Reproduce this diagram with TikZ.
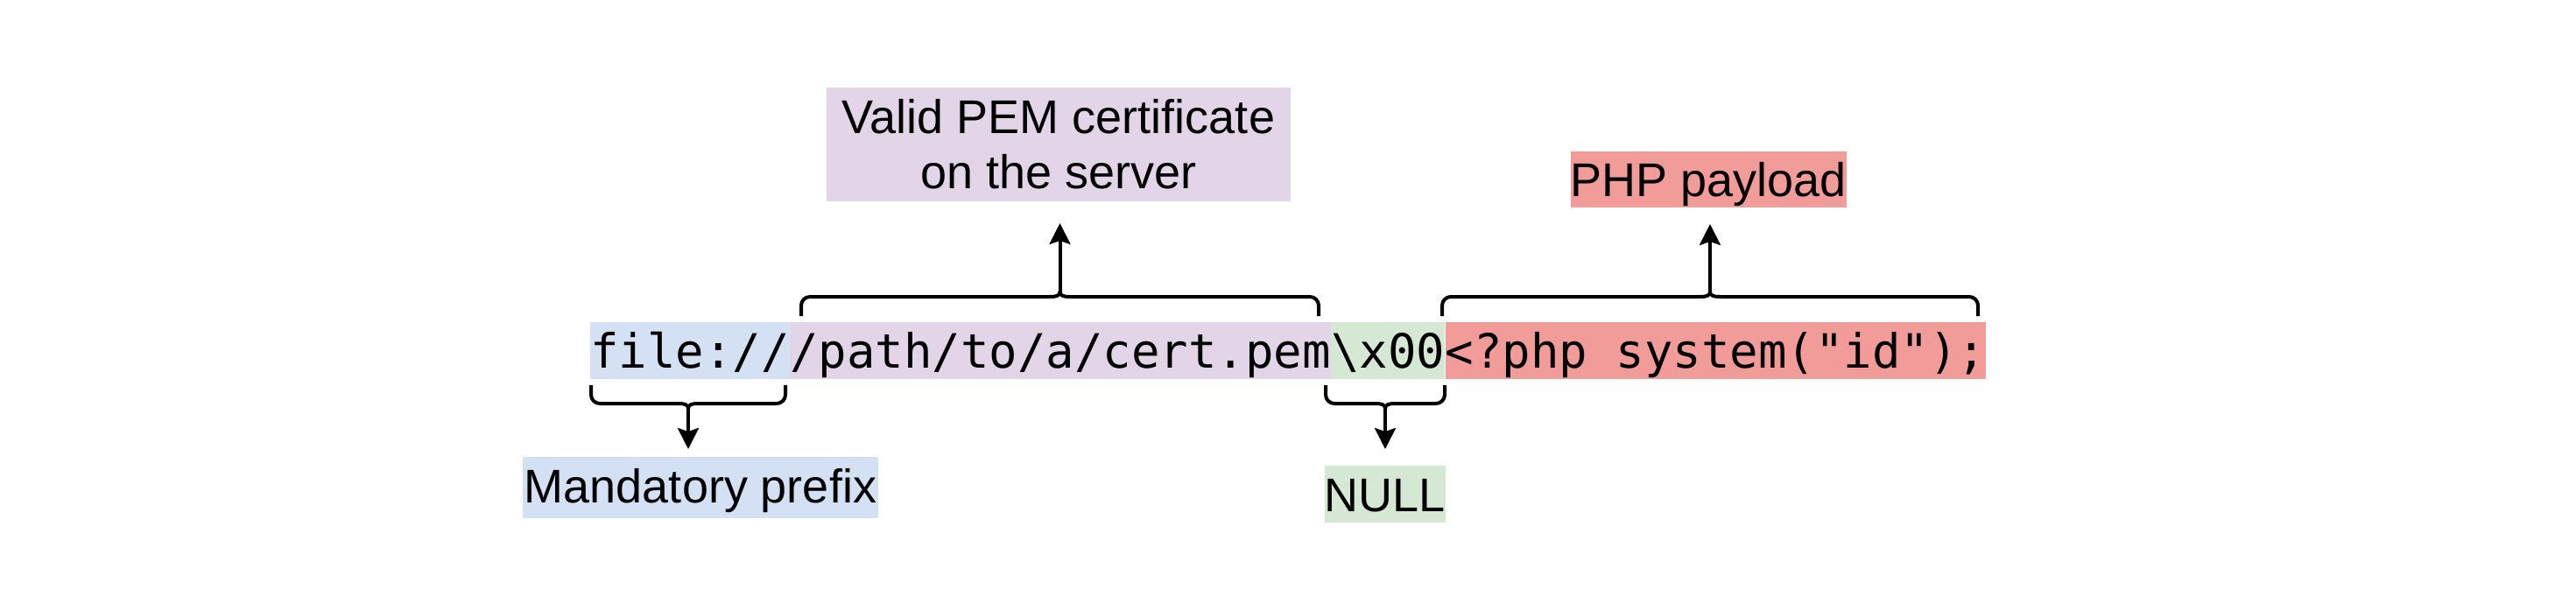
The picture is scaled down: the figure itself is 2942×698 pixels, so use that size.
\documentclass[tikz,border=0pt]{standalone}
\usepackage{fontspec}
\setmainfont{Liberation Sans}
\setmonofont{DejaVu Sans Mono}
\usetikzlibrary{arrows.meta}
\definecolor{cblue}{HTML}{D4E1F5}
\definecolor{cpurple}{HTML}{E1D5E7}
\definecolor{cgreen}{HTML}{D5E8D4}
\definecolor{cred}{HTML}{F19C99}
\begin{document}
\begin{tikzpicture}[x=1pt,y=-1pt,
  code/.style={font=\ttfamily\fontsize{54}{60}\selectfont, inner sep=0pt, text height=52pt, text depth=13pt, anchor=base west},
  lab/.style={font=\fontsize{54}{63}\selectfont, inner sep=0pt},
  bracestroke/.style={line width=4pt, line join=round},
  arr/.style={line width=4pt, -{Stealth[length=24pt,width=24pt,inset=4pt]}}]
\useasboundingbox (0,0) rectangle (2942,698);

% code line
\node[code, fill=cblue] (s1) at (674,420) {file://};
\node[code, fill=cpurple] (s2) at (s1.base east) {/path/to/a/cert.pem};
\node[code, fill=cgreen] (s3) at (s2.base east) {\textbackslash x00};
\node[code, fill=cred] (s4) at (s3.base east) {<?php system("id");};

% labels
\node[lab, fill=cpurple, minimum width=530pt, minimum height=130pt, align=center] (pem) at (1209,165) {Valid PEM certificate\\on the server};
\node[lab, fill=cred, minimum width=309pt, text height=51pt, text depth=13pt, anchor=base] (php) at (1951.5,224) {PHP payload};
\node[lab, fill=cblue, minimum width=406pt, text height=52pt, text depth=18pt, anchor=base] (pre) at (800,574) {Mandatory prefix};
\node[lab, fill=cgreen, minimum width=132pt, text height=52pt, text depth=13pt, anchor=base] (nul) at (1582,584) {NULL};

% braces
\draw[bracestroke] (915,361) -- (915,349) .. controls (915,343.5) and (919.5,339) .. (925,339) -- (1198.5,339) .. controls (1206.5,339) and (1210.5,338) .. (1210.5,333) .. controls (1210.5,338) and (1214.5,339) .. (1222.5,339) -- (1496,339) .. controls (1501.5,339) and (1506,343.5) .. (1506,349) -- (1506,361);
\draw[bracestroke] (1647,361) -- (1647,349) .. controls (1647,343.5) and (1651.5,339) .. (1657,339) -- (1941,339) .. controls (1949,339) and (1953,338) .. (1953,333) .. controls (1953,338) and (1957,339) .. (1965,339) -- (2249,339) .. controls (2254.5,339) and (2259,343.5) .. (2259,349) -- (2259,361);
\draw[bracestroke] (675,440) -- (675,451) .. controls (675,456.5) and (679.5,461) .. (685,461) -- (774,461) .. controls (782,461) and (786,462) .. (786,467) .. controls (786,462) and (790,461) .. (798,461) -- (887,461) .. controls (892.5,461) and (897,456.5) .. (897,451) -- (897,440);
\draw[bracestroke] (1514,440) -- (1514,451) .. controls (1514,456.5) and (1518.5,461) .. (1524,461) -- (1570,461) .. controls (1578,461) and (1582,462) .. (1582,467) .. controls (1582,462) and (1586,461) .. (1594,461) -- (1640,461) .. controls (1645.5,461) and (1650,456.5) .. (1650,451) -- (1650,440);

% brace tips and arrow ends
\coordinate (tpem) at (1210.5,335);
\coordinate (epem) at (1210.5,255);
\coordinate (tphp) at (1953,335);
\coordinate (ephp) at (1953,256);
\coordinate (tpre) at (786,465);
\coordinate (epre) at (786,513);
\coordinate (tnul) at (1582,465);
\coordinate (enul) at (1582,513);

\draw[arr] (tpem) -- (epem);
\draw[arr] (tphp) -- (ephp);
\draw[arr] (tpre) -- (epre);
\draw[arr] (tnul) -- (enul);
\end{tikzpicture}
\end{document}
